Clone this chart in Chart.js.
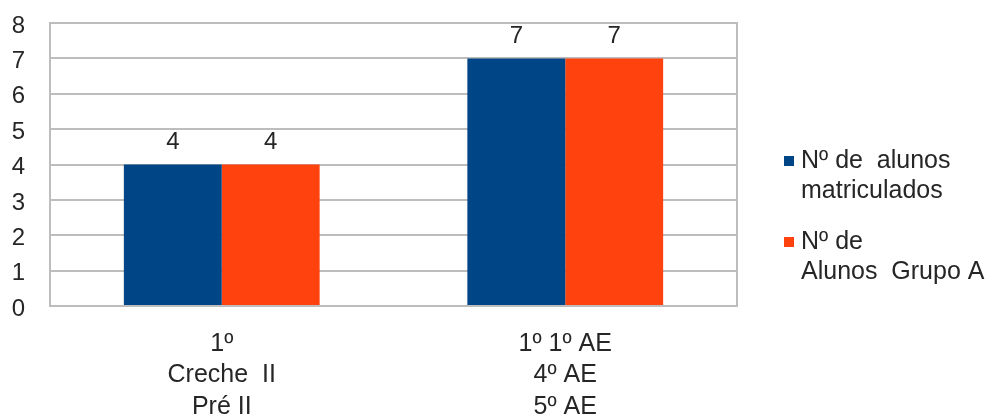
<!DOCTYPE html>
<html>
<head>
<meta charset="utf-8">
<script src="https://cdn.jsdelivr.net/npm/chart.js@4/dist/chart.umd.min.js"></script>
<style>
html,body{margin:0;padding:0;background:#fff;}
canvas{display:block;}
</style>
</head>
<body>
<canvas id="c" width="1003" height="416"></canvas>
<script>
const categories = [["1º", "Creche  II", "Pré II"], ["1º 1º AE", "4º AE", "5º AE"]];
const seriesNames = [["Nº de  alunos", "matriculados"], ["Nº de", "Alunos  Grupo A"]];
const matriculados = [4, 7];
const grupoA = [4, 7];
const yTicks = [0, 1, 2, 3, 4, 5, 6, 7, 8];
const colors = ["#004586", "#ff420e"];

const FONT = "'Liberation Sans', Arial, sans-serif";
const GRID = "#bdbdbd";
const TEXT = "#262626";

const framePlugin = {
  id: "frame",
  beforeDatasetsDraw(chart) {
    const {ctx, chartArea: a} = chart;
    ctx.save();
    ctx.strokeStyle = GRID;
    ctx.lineWidth = 2;
    ctx.strokeRect(a.left, a.top, a.right - a.left, a.bottom - a.top);
    ctx.restore();
  }
};

const valuePlugin = {
  id: "values",
  afterDatasetsDraw(chart) {
    const {ctx} = chart;
    ctx.save();
    ctx.font = "24px " + FONT;
    ctx.fillStyle = TEXT;
    ctx.textAlign = "center";
    ctx.textBaseline = "middle";
    chart.data.datasets.forEach((ds, i) => {
      const meta = chart.getDatasetMeta(i);
      meta.data.forEach((bar, j) => {
        ctx.fillText(String(ds.data[j]), bar.x, bar.y - 22);
      });
    });
    ctx.restore();
  }
};

const legendPlugin = {
  id: "customLegend",
  afterDraw(chart) {
    const {ctx} = chart;
    ctx.save();
    ctx.font = "25px " + FONT;
    ctx.textAlign = "left";
    ctx.textBaseline = "middle";
    const starts = [161, 242];
    chart.data.datasets.forEach((ds, i) => {
      const y0 = starts[i];
      ctx.fillStyle = ds.backgroundColor;
      ctx.fillRect(784, y0 - 5, 10, 10);
      ctx.fillStyle = TEXT;
      ds.label.forEach((line, k) => {
        ctx.fillText(line, 801, y0 + k * 30);
      });
    });
    ctx.restore();
  }
};

new Chart(document.getElementById("c"), {
  type: "bar",
  data: {
    labels: categories,
    datasets: [
      {label: seriesNames[0], data: matriculados, backgroundColor: colors[0], barPercentage: 1, categoryPercentage: 0.57},
      {label: seriesNames[1], data: grupoA, backgroundColor: colors[1], barPercentage: 1, categoryPercentage: 0.57}
    ]
  },
  options: {
    responsive: false,
    animation: false,
    layout: {padding: {top: 23, right: 266, left: 0, bottom: 0}},
    plugins: {legend: {display: false}, tooltip: {enabled: false}},
    scales: {
      x: {
        grid: {display: false},
        border: {display: false},
        ticks: {color: TEXT, font: {family: FONT, size: 25, lineHeight: 1.26}, padding: 14, maxRotation: 0},
        afterFit(s) { s.height = 110; s.paddingLeft = 0; s.paddingRight = 0; }
      },
      y: {
        min: 0, max: 8,
        afterBuildTicks(s) { s.ticks = yTicks.map(v => ({value: v})); },
        grid: {color: GRID, lineWidth: 2, drawTicks: false},
        border: {display: false},
        ticks: {color: TEXT, font: {family: FONT, size: 24}, padding: 25, labelOffset: 3},
        afterFit(s) { s.width = 50; s.paddingTop = 0; s.paddingBottom = 0; }
      }
    }
  },
  plugins: [framePlugin, valuePlugin, legendPlugin]
});
</script>
</body>
</html>
